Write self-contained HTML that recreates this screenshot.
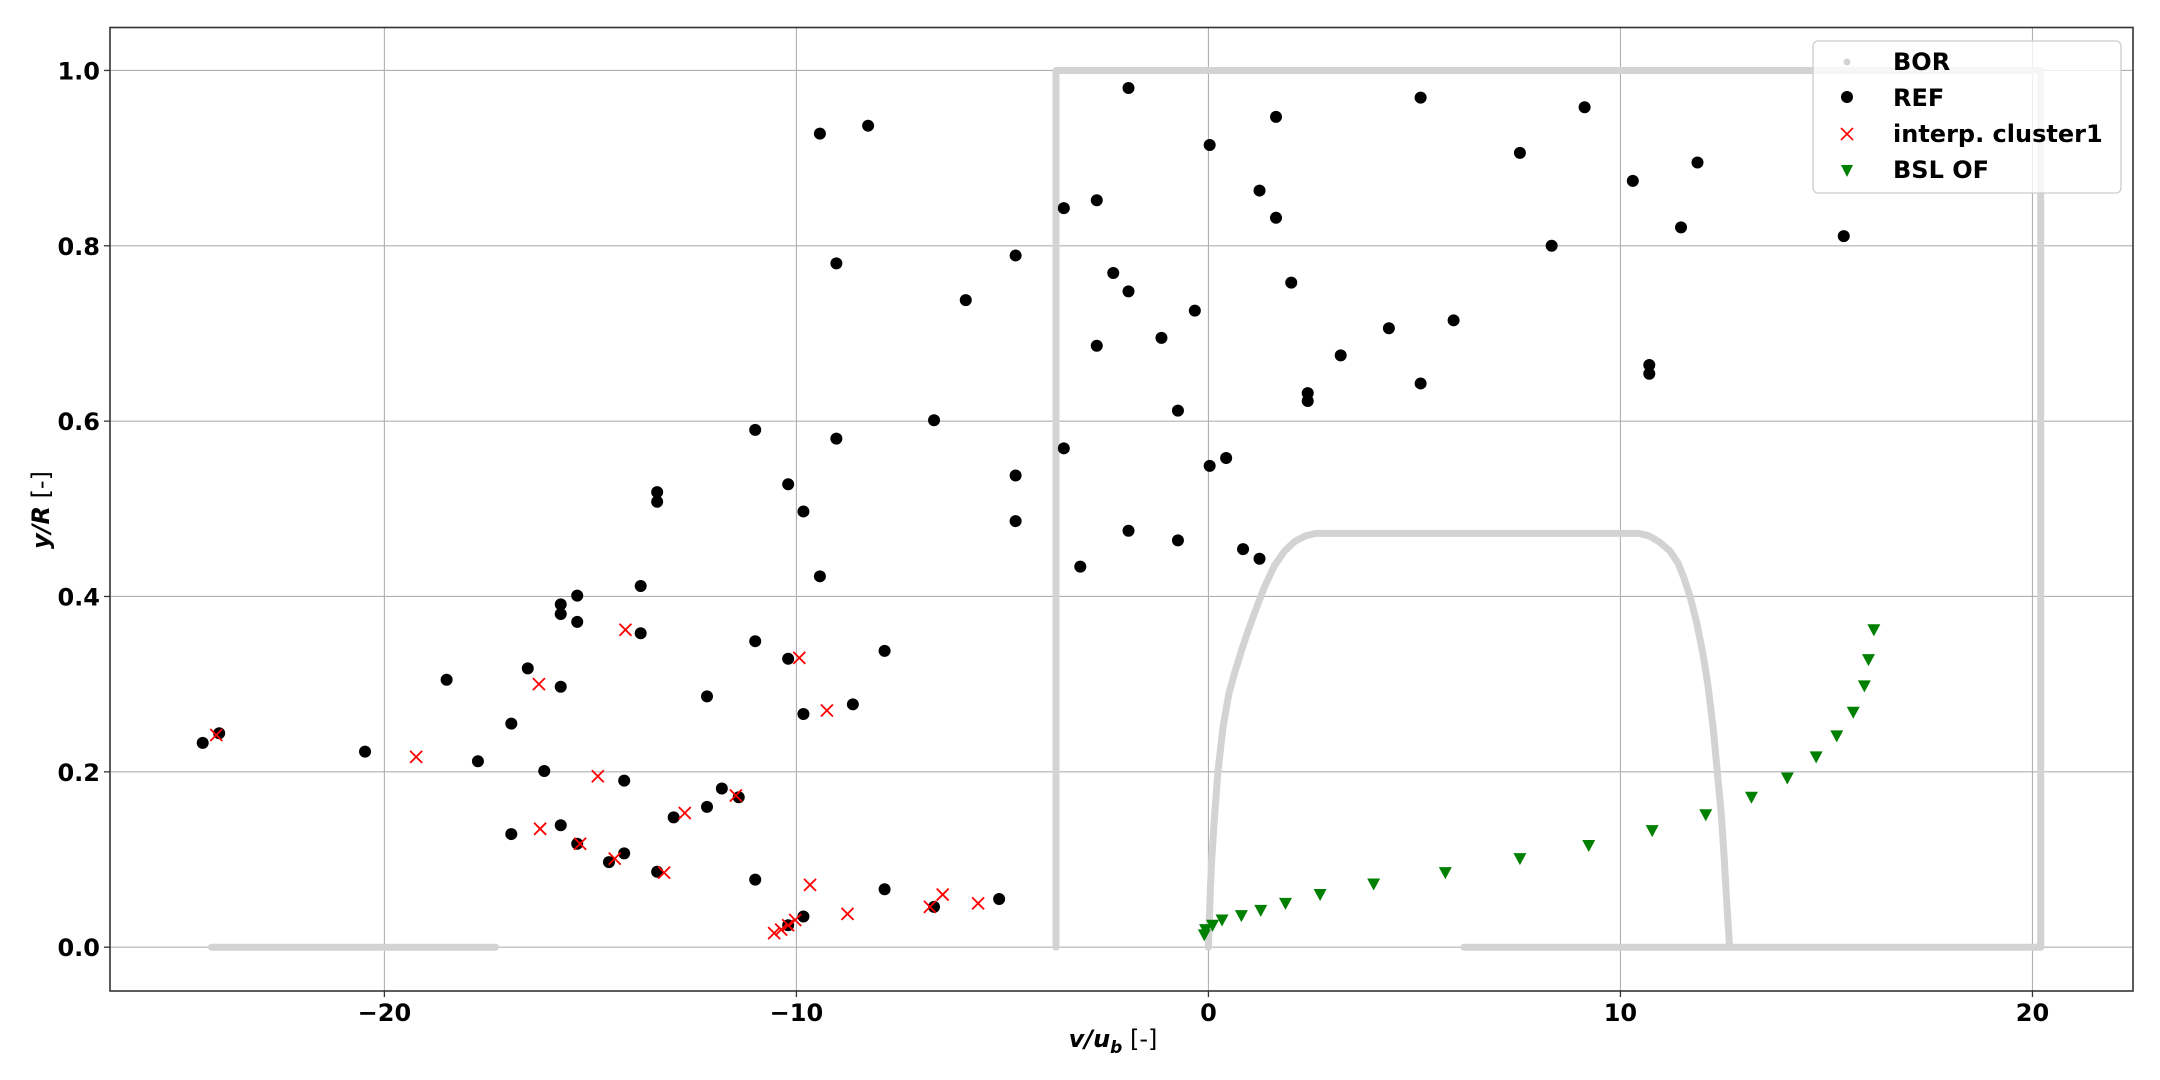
<!DOCTYPE html>
<html><head><meta charset="utf-8"><style>
html,body{margin:0;padding:0;background:#fff;}
svg{display:block;font-family:"DejaVu Sans","Liberation Sans",sans-serif;}
</style></head><body>
<svg id="chart" width="2160" height="1080" viewBox="0 0 2160 1080">
<g id="grid"></g>
<g id="bor"></g>
<g id="ref"></g>
<g id="interp"></g>
<g id="bsl"></g>
<rect x="110" y="27.5" width="2023" height="963.5" fill="none" stroke="#333" stroke-width="1.6"/>
<g id="ticks"></g>
<text x="1113" y="1047" font-size="24" text-anchor="middle"><tspan font-style="italic" font-weight="bold">v/u</tspan><tspan font-style="italic" font-weight="bold" font-size="17" dy="6">b</tspan><tspan dy="-6"> [-]</tspan></text>
<text transform="translate(49,510) rotate(-90)" font-size="24" text-anchor="middle"><tspan font-style="italic" font-weight="bold">y/R</tspan><tspan> [-]</tspan></text>
<g>
<rect x="1813" y="41" width="308" height="152" rx="5" fill="#fff" fill-opacity="0.8" stroke="#ccc" stroke-width="1.3"/>
<circle cx="1847" cy="62" r="3.5" fill="#d3d3d3"/>
<text x="1893" y="70" font-size="24" font-weight="bold">BOR</text>
<circle cx="1847" cy="97" r="6" fill="#000"/>
<text x="1893" y="106" font-size="24" font-weight="bold">REF</text>
<path d="M1841,128 L1853,140 M1853,128 L1841,140" stroke="red" stroke-width="1.6"/>
<text x="1893" y="142" font-size="24" font-weight="bold">interp. cluster1</text>
<path d="M1841,165 L1853,165 L1847,177 Z" fill="green"/>
<text x="1893" y="178" font-size="24" font-weight="bold">BSL OF</text>
</g>
</svg>
<script>
const xTicks=[-20,-10,0,10,20];
const yTicks=[0.0,0.2,0.4,0.6,0.8,1.0];
const borX=[-24.2,-17.3,null,-3.7,-3.7,20.2,20.2,null,6.2,20.2,null,0,0.02,0.05,0.08,0.15,0.23,0.35,0.5,0.65,0.8,0.97,1.15,1.35,1.6,1.85,2.1,2.35,2.6,10.45,10.7,10.95,11.2,11.4,11.55,11.7,11.85,12.0,12.12,12.25,12.35,12.45,12.52,12.58,12.65];
const borY=[0,0,null,0,1.0,1.0,0,null,0,0,null,0,0.03,0.07,0.1,0.15,0.2,0.25,0.29,0.315,0.338,0.362,0.385,0.41,0.435,0.452,0.463,0.469,0.472,0.472,0.469,0.462,0.452,0.438,0.42,0.398,0.37,0.335,0.3,0.25,0.2,0.15,0.1,0.05,0];
const refX=[-24.41,-24.01,-20.47,-18.49,-17.73,-16.92,-16.92,-16.52,-16.12,-15.72,-15.72,-15.72,-15.72,-15.32,-15.32,-15.32,-14.55,-14.18,-14.18,-13.78,-13.78,-13.38,-13.38,-13.38,-12.98,-12.17,-12.17,-11.81,-11.40,-11.00,-11.00,-11.00,-10.20,-10.20,-10.20,-9.83,-9.83,-9.83,-9.43,-9.43,-9.03,-9.03,-8.63,-8.26,-7.86,-7.86,-6.66,-6.66,-5.89,-5.08,-4.68,-4.68,-4.68,-3.51,-3.51,-3.11,-2.71,-2.71,-2.31,-1.94,-1.94,-1.94,-1.14,-0.74,-0.74,-0.33,0.03,0.03,0.43,0.84,1.24,1.24,1.64,1.64,2.01,2.41,2.41,3.21,4.38,5.15,5.15,5.95,7.56,8.33,9.13,10.30,10.70,10.70,11.47,11.87,15.42];
const refY=[0.233,0.244,0.223,0.305,0.212,0.255,0.129,0.318,0.201,0.391,0.380,0.297,0.139,0.401,0.371,0.118,0.097,0.190,0.107,0.412,0.358,0.519,0.508,0.086,0.148,0.286,0.160,0.181,0.171,0.590,0.349,0.077,0.528,0.329,0.025,0.497,0.266,0.035,0.928,0.423,0.780,0.580,0.277,0.937,0.338,0.066,0.601,0.046,0.738,0.055,0.789,0.538,0.486,0.843,0.569,0.434,0.852,0.686,0.769,0.980,0.748,0.475,0.695,0.612,0.464,0.726,0.915,0.549,0.558,0.454,0.863,0.443,0.947,0.832,0.758,0.632,0.623,0.675,0.706,0.643,0.969,0.715,0.906,0.800,0.958,0.874,0.664,0.654,0.821,0.895,0.811];
const interpX=[-24.08,-19.23,-16.25,-16.22,-15.25,-14.82,-14.41,-14.15,-13.21,-12.71,-11.47,-10.54,-10.37,-10.20,-10.03,-9.93,-9.67,-9.26,-8.76,-6.76,-6.45,-5.59];
const interpY=[0.242,0.217,0.300,0.135,0.118,0.195,0.101,0.362,0.085,0.153,0.173,0.016,0.020,0.025,0.031,0.330,0.071,0.270,0.038,0.046,0.060,0.050];
const bslX=[-0.10,-0.07,0.10,0.33,0.80,1.27,1.87,2.71,4.01,5.75,7.56,9.23,10.77,12.07,13.18,14.05,14.75,15.25,15.65,15.92,16.02,16.15];
const bslY=[0.014,0.020,0.025,0.031,0.036,0.042,0.050,0.060,0.072,0.085,0.101,0.116,0.133,0.151,0.171,0.193,0.217,0.241,0.268,0.298,0.328,0.362];

const L=110,R=2133,T=27.5,B=991,XMIN=-26.66,XMAX=22.44,YMIN=-0.05,YMAX=1.049;
function X(v){return L+(v-XMIN)/(XMAX-XMIN)*(R-L);}
function Y(v){return B-(v-YMIN)/(YMAX-YMIN)*(B-T);}
const NS="http://www.w3.org/2000/svg";
function mk(tag,attrs,parent){const e=document.createElementNS(NS,tag);for(const k in attrs)e.setAttribute(k,attrs[k]);parent.appendChild(e);return e;}
const grid=document.getElementById('grid'),ticks=document.getElementById('ticks');
xTicks.forEach(t=>{
  const g=mk('line',{x1:X(t),x2:X(t),y1:T,y2:B,stroke:'#b0b0b0','stroke-width':1.1},grid);
  
  
  const tk=mk('line',{x1:X(t),x2:X(t),y1:B,y2:B+6,stroke:'#333','stroke-width':1.3},ticks);
  
  
  const tx=mk('text',{x:X(t),y:B+30,'font-size':24,'font-weight':'bold','text-anchor':'middle'},ticks);
  tx.textContent=(t<0?'\u2212'+(-t):String(t));
  
  
});
yTicks.forEach(t=>{
  const g=mk('line',{x1:L,x2:R,y1:Y(t),y2:Y(t),stroke:'#b0b0b0','stroke-width':1.1},grid);
  
  
  const tk=mk('line',{x1:L-6,x2:L,y1:Y(t),y2:Y(t),stroke:'#333','stroke-width':1.3},ticks);
  
  
  const tx=mk('text',{x:L-10,y:Y(t)+9,'font-size':24,'font-weight':'bold','text-anchor':'end'},ticks);
  tx.textContent=t.toFixed(1);
  
  
});
const bor=document.getElementById('bor');
let seg=[];
function flush(){
  if(seg.length){
    const p=mk('polyline',{points:seg.join(' '),fill:'none',stroke:'#d3d3d3','stroke-width':7,'stroke-linejoin':'round','stroke-linecap':'round'},bor);
    
    
  }
  seg=[];
}
for(let i=0;i<borX.length;i++){
  if(borX[i]===null){flush();continue;}
  seg.push(X(borX[i]).toFixed(1)+','+Y(borY[i]).toFixed(1));
}
flush();
const ref=document.getElementById('ref');
refX.forEach((v,i)=>{
  const c=mk('circle',{cx:X(v),cy:Y(refY[i]),r:6,fill:'#000'},ref);
  
  
});
const interp=document.getElementById('interp');
interpX.forEach((v,i)=>{
  const x=X(v),y=Y(interpY[i]),s=6;
  const p=mk('path',{d:`M${x-s},${y-s}L${x+s},${y+s}M${x+s},${y-s}L${x-s},${y+s}`,stroke:'red','stroke-width':1.8,fill:'none'},interp);
  
  
});
const bsl=document.getElementById('bsl');
bslX.forEach((v,i)=>{
  const x=X(v),y=Y(bslY[i]);
  const p=mk('path',{d:`M${x-6.5},${y-5.5}L${x+6.5},${y-5.5}L${x},${y+6.5}Z`,fill:'green'},bsl);
  
  
});
</script>
</body></html>
